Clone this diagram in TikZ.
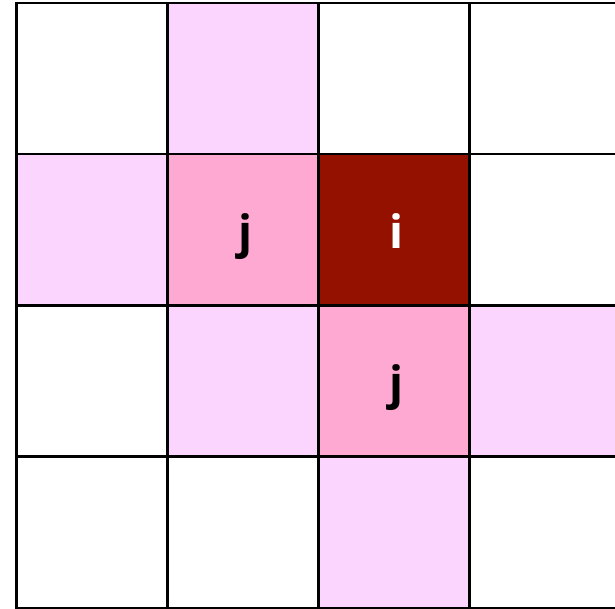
\documentclass[tikz,border=0pt]{standalone}
\usepackage{fontspec}
\setmainfont{Open Sans}
\definecolor{lightpink}{HTML}{FBD5FD}
\definecolor{midpink}{HTML}{FDA9D2}
\definecolor{darkred}{HTML}{941100}
\begin{document}
\begin{tikzpicture}[x=1pt,y=-1pt,
  cell/.style={draw=black,line width=2.4pt,minimum width=151pt,minimum height=151.2pt,inner sep=0pt,outer sep=0pt,anchor=north west},
  lbl/.style={anchor=base,font=\fontsize{46}{50}\selectfont\bfseries,inner sep=0pt}]
\useasboundingbox (0,0) rectangle (615,609);
\clip (0,0) rectangle (615,609);
\foreach \r in {0,1,2,3}{
  \foreach \c in {0,1,2,3}{
    \node[cell] (c\r\c) at (16.5+151*\c,3+151.2*\r) {};
  }
}
\fill[lightpink] (c01.north west) rectangle (c01.south east);
\fill[lightpink] (c10.north west) rectangle (c10.south east);
\fill[midpink] (c11.north west) rectangle (c11.south east);
\fill[darkred] (c12.north west) rectangle (c12.south east);
\fill[lightpink] (c21.north west) rectangle (c21.south east);
\fill[midpink] (c22.north west) rectangle (c22.south east);
\fill[lightpink] (c23.north west) rectangle (c23.south east);
\fill[lightpink] (c32.north west) rectangle (c32.south east);
\foreach \r in {0,1,2,3}{
  \foreach \c in {0,1,2,3}{
    \draw[line width=2.4pt] (c\r\c.north west) rectangle (c\r\c.south east);
  }
}
\node[lbl,text=black] (j1) at ([xshift=3pt,yshift=-18.5pt]c11.center) {j};
\node[lbl,text=white] (i1) at ([xshift=3pt,yshift=-18.5pt]c12.center) {i};
\node[lbl,text=black] (j2) at ([xshift=3pt,yshift=-18.5pt]c22.center) {j};
\end{tikzpicture}
\end{document}
